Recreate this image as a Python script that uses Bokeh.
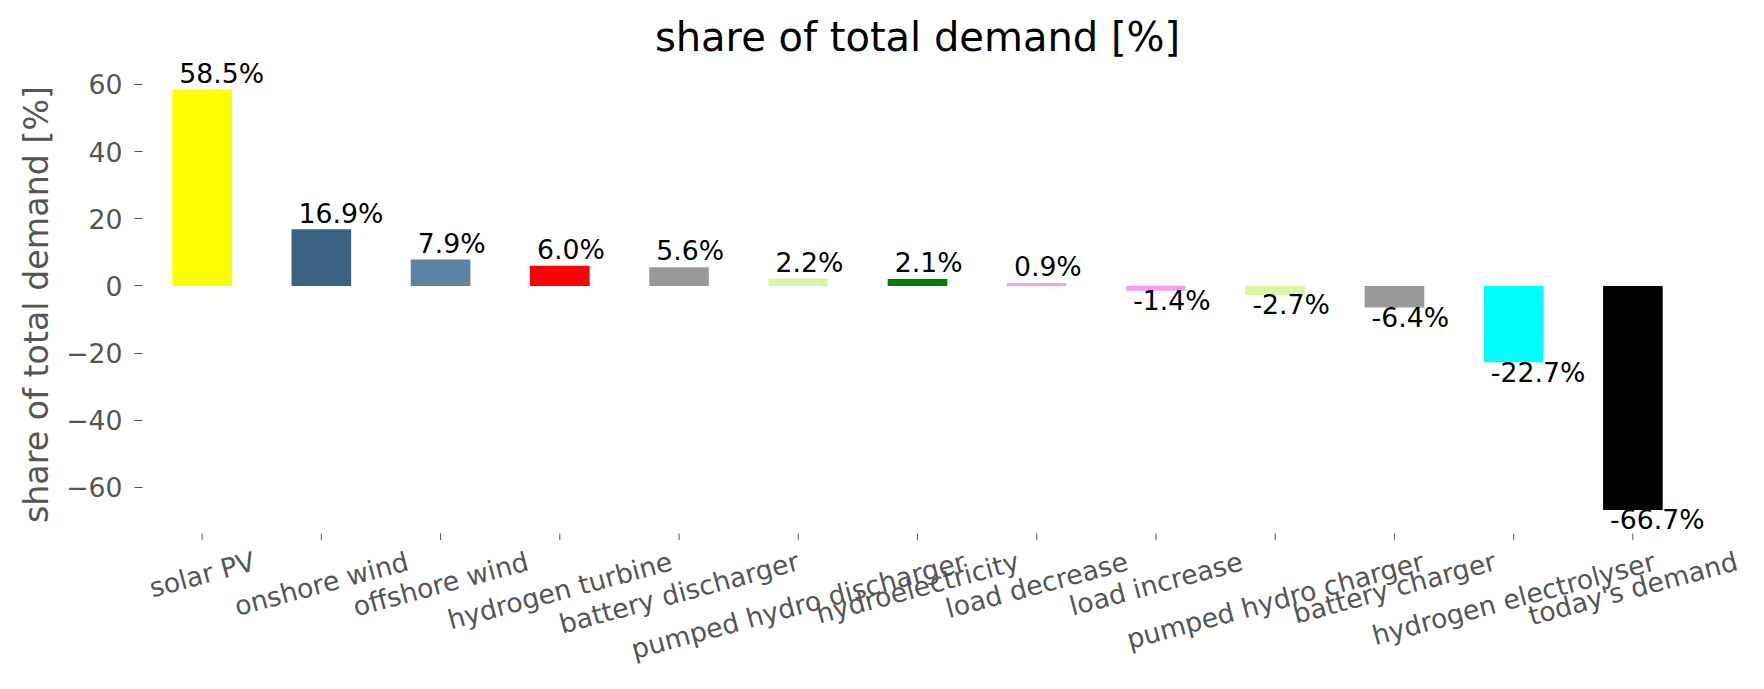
import math
from bokeh.plotting import figure
from bokeh.layouts import row
from bokeh.models import FixedTicker, Range1d, ColumnDataSource
from bokeh.embed import file_html
from bokeh.resources import INLINE
from bokeh.core.properties import value

# ---------------- data ----------------
categories = ["solar PV", "onshore wind", "offshore wind", "hydrogen turbine",
              "battery discharger", "pumped hydro discharger", "hydroelectricity",
              "load decrease", "load increase", "pumped hydro charger",
              "battery charger", "hydrogen electrolyser", "today's demand"]
shares = [58.5, 16.9, 7.9, 6.0, 5.6, 2.2, 2.1, 0.9, -1.4, -2.7, -6.4, -22.7, -66.7]
colors = ["#ffff00", "#3b6182", "#5c84a5", "#ff0000", "#999999", "#daf5a6",
          "#008000", "#f99bf7", "#f99bf7", "#daf5a6", "#999999", "#00ffff", "#000000"]
y_ticks = [-60, -40, -20, 0, 20, 40, 60]
y_tick_labels = ["\u221260", "\u221240", "\u221220", "0", "20", "40", "60"]
title_text = "share of total demand [%]"
y_label = "share of total demand [%]"

# ---------------- style / geometry ----------------
FONT = "DejaVu Sans"
TICK_FS = 26.7
GRAY = "#555555"
# axes box of the original chart (page pixels) and its data limits
AX_LEFT, AX_TOP, AX_W, AX_H = 142, 68, 1550, 465
YMIN, YMAX = -73.7, 64.76
XMIN, XMAX = -0.5, len(categories) - 0.5
PAGE_H = 681
PAGE_W = 1760
YLAB_W = 60

ppu_y = AX_H / (YMAX - YMIN)
ppu_x = AX_W / (XMAX - XMIN)
FRAME_W = PAGE_W - AX_LEFT
Y_TOP = YMAX + AX_TOP / ppu_y
Y_BOT = Y_TOP - PAGE_H / ppu_y
X_END = XMIN + FRAME_W / ppu_x


def page_y(py):
    """page pixel row -> data y"""
    return Y_TOP - py / ppu_y


# DejaVu Sans advance widths (per em) used to place rotated category labels
_W = {'a': .613, 'b': .635, 'c': .550, 'd': .635, 'e': .615, 'f': .352, 'g': .635,
      'h': .634, 'i': .278, 'j': .278, 'k': .579, 'l': .278, 'm': .974, 'n': .634,
      'o': .612, 'p': .635, 'q': .635, 'r': .411, 's': .521, 't': .392, 'u': .634,
      'v': .592, 'w': .818, 'x': .592, 'y': .592, 'z': .525, ' ': .318, 'P': .603,
      'V': .684, "'": .275}


def text_width(s, fs):
    return sum(_W.get(c, 0.6) for c in s) * fs


p = figure(frame_width=FRAME_W, frame_height=PAGE_H,
           x_range=Range1d(XMIN, X_END), y_range=Range1d(Y_BOT, Y_TOP),
           output_backend="svg", toolbar_location=None,
           min_border_left=AX_LEFT - YLAB_W, min_border_top=0, min_border_right=0,
           min_border_bottom=0)
p.background_fill_color = "white"
p.border_fill_color = "white"
p.outline_line_color = None
p.grid.visible = False
p.xaxis.visible = False

xs = list(range(len(categories)))
src = ColumnDataSource(dict(x=xs, top=shares, color=colors))
p.vbar(x="x", top="top", bottom=0, width=0.5, fill_color="color",
       line_color=None, source=src)

# title (centred over the axes box)
p.text(x=[(XMIN + XMAX) / 2], y=[page_y(50.7 - 0.346 * 40)], text=[title_text],
       text_font=value(FONT), text_font_size="40px", text_color="black",
       text_align="center", text_baseline="middle")

# value labels
pos = [i for i, v in enumerate(shares) if v >= 0]
neg = [i for i, v in enumerate(shares) if v < 0]
for idx, yoff in ((pos, -16.2), (neg, 9.8)):
    s = ColumnDataSource(dict(x=[i - 0.25 for i in idx], y=[shares[i] for i in idx],
                              t=["%.1f%%" % shares[i] for i in idx]))
    p.text(x="x", y="y", text="t", source=s, x_offset=7, y_offset=yoff,
           text_font=value(FONT), text_font_size="26.7px", text_color="black",
           text_align="left", text_baseline="middle")

# y axis
ya = p.yaxis[0]
ya.ticker = FixedTicker(ticks=y_ticks)
ya.major_label_overrides = {t: l for t, l in zip(y_ticks, y_tick_labels)}
ya.axis_line_color = None
ya.minor_tick_line_color = None
ya.major_tick_out = 8
ya.major_tick_in = 0
ya.major_tick_line_color = GRAY
ya.major_label_standoff = 12
ya.major_label_text_font = FONT
ya.major_label_text_font_size = "26.7px"
ya.major_label_text_color = GRAY

# x ticks and rotated category names below the axes box
tick_top = page_y(AX_TOP + AX_H)
tick_bot = page_y(AX_TOP + AX_H + 6.6)
p.segment(x0=xs, y0=[tick_top] * len(xs), x1=xs, y1=[tick_bot] * len(xs),
          line_color=GRAY, line_width=1)

ang = math.radians(15)
lab_y = []
for cat in categories:
    w = text_width(cat, TICK_FS)
    h = 1.164 * TICK_FS
    bbox_h = w * math.sin(ang) + h * math.cos(ang)
    lab_y.append(page_y(AX_TOP + AX_H + 12.0 + bbox_h / 2.0))
p.text(x=xs, y=lab_y, text=categories, angle=15, angle_units="deg",
       text_align="center", text_baseline="middle", text_font=value(FONT),
       text_font_size="26.7px", text_color=GRAY)

# y-axis title strip
yl = figure(frame_width=YLAB_W, frame_height=PAGE_H, x_range=Range1d(0, YLAB_W),
            y_range=Range1d(0, PAGE_H), output_backend="svg", toolbar_location=None,
            min_border_left=0, min_border_top=0, min_border_right=0, min_border_bottom=0)
yl.axis.visible = False
yl.grid.visible = False
yl.outline_line_color = None
yl.background_fill_color = "white"
yl.border_fill_color = "white"
yl.text(x=[36], y=[PAGE_H - (AX_TOP + AX_H / 2 + 3.5)], text=[y_label], angle=90,
        angle_units="deg", text_align="center", text_baseline="middle",
        text_font=value(FONT), text_font_size="33.3px", text_color=GRAY)

layout = row(yl, p, spacing=0)
open("out.html", "w").write(file_html(layout, INLINE))
